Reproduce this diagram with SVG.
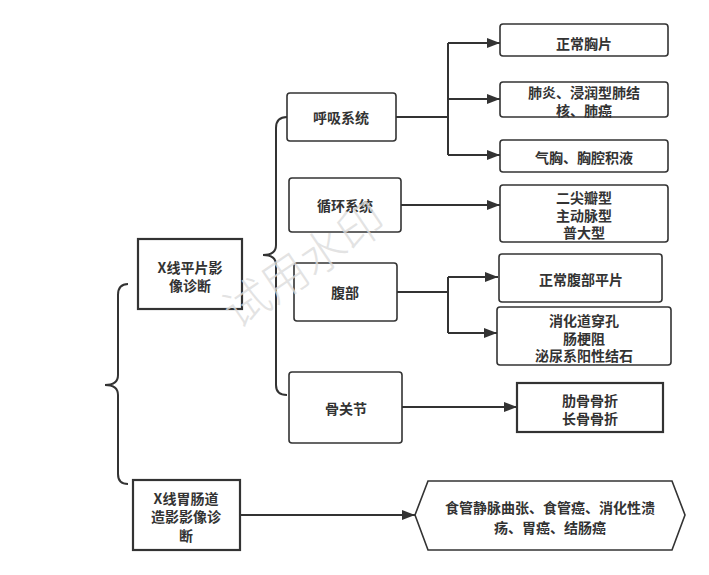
<svg xmlns="http://www.w3.org/2000/svg" width="709" height="575" viewBox="0 0 709 575">
<defs>
<marker id="arr" markerWidth="14" markerHeight="12" refX="13" refY="5" orient="auto" markerUnits="userSpaceOnUse">
<path d="M0,0 L13,5 L0,10 Z" fill="#333"/>
</marker>
<style>
.n{fill:#fff;stroke:#333;stroke-width:1.6}
.s{fill:#fff;stroke:#333;stroke-width:2.2}
.c{fill:none;stroke:#333;stroke-width:2}
.t{font-family:"Noto Sans CJK SC","Liberation Sans",sans-serif;font-size:14px;font-weight:bold;fill:#333;text-anchor:middle;dominant-baseline:central}
.w{font-family:"Noto Sans CJK SC","Liberation Sans",sans-serif;font-size:46px;font-weight:300;fill:#dcdcdc;fill-opacity:0.8;text-anchor:middle;dominant-baseline:central}
</style>
</defs>
<rect width="709" height="575" fill="#fff"/>
<g id="connectors">
<path class="c" d="M128,284 Q118,284 118,295 L118,375 Q118,385 105,385 Q118,385 118,395 L118,474 Q118,484 128,484"/>
<path class="c" d="M287,117 Q276,117 276,128 L276,245 Q276,255 263,255 Q276,255 276,265 L276,385 Q276,395 287,395"/>
<path class="c" d="M396,117 L448,117"/>
<path class="c" d="M448,43 L448,155"/>
<path class="c" d="M448,43 L500,43" marker-end="url(#arr)"/>
<path class="c" d="M448,99 L500,99" marker-end="url(#arr)"/>
<path class="c" d="M448,155 L500,155" marker-end="url(#arr)"/>
<path class="c" d="M401,205 L500,205" marker-end="url(#arr)"/>
<path class="c" d="M397,292 L448,292"/>
<path class="c" d="M448,277 L448,333"/>
<path class="c" d="M448,277 L498,277" marker-end="url(#arr)"/>
<path class="c" d="M448,333 L497,333" marker-end="url(#arr)"/>
<path class="c" d="M402,407 L517,407" marker-end="url(#arr)"/>
<path class="c" d="M240,515 L415,515" marker-end="url(#arr)"/>
</g>
<g id="xray">
<rect class="s" x="138" y="239" width="104" height="70"/>
<text class="t" x="190" y="267">X线平片影</text>
<text class="t" x="190" y="285">像诊断</text>
</g>
<g id="resp">
<rect class="n" x="287" y="93" width="109" height="48" rx="3"/>
<text class="t" x="341" y="117">呼吸系统</text>
</g>
<g id="circ">
<rect class="n" x="289" y="178" width="112" height="54" rx="3"/>
<text class="t" x="345" y="205">循环系统</text>
</g>
<g id="abd">
<rect class="n" x="294" y="263" width="103" height="58" rx="3"/>
<text class="t" x="345" y="292">腹部</text>
</g>
<g id="bone">
<rect class="n" x="289" y="372" width="113" height="71" rx="3"/>
<text class="t" x="346" y="408">骨关节</text>
</g>
<g id="gi">
<rect class="s" x="133" y="480" width="107" height="70"/>
<text class="t" x="186" y="498">X线胃肠道</text>
<text class="t" x="186" y="516">造影影像诊</text>
<text class="t" x="186" y="535">断</text>
</g>
<g id="chest">
<rect class="n" x="500" y="24" width="168" height="32" rx="3"/>
<text class="t" x="584" y="43">正常胸片</text>
</g>
<g id="pneu">
<rect class="n" x="500" y="82" width="168" height="35" rx="3"/>
<text class="t" x="584" y="92">肺炎、浸润型肺结</text>
<text class="t" x="584" y="110">核、肺癌</text>
</g>
<g id="pneumo">
<rect class="n" x="500" y="140" width="168" height="32" rx="3"/>
<text class="t" x="584" y="157">气胸、胸腔积液</text>
</g>
<g id="heart">
<rect class="n" x="500" y="185" width="168" height="57" rx="3"/>
<text class="t" x="584" y="197">二尖瓣型</text>
<text class="t" x="584" y="215">主动脉型</text>
<text class="t" x="584" y="232">普大型</text>
</g>
<g id="abdnormal">
<rect class="n" x="499" y="254" width="163" height="48" rx="3"/>
<text class="t" x="581" y="279">正常腹部平片</text>
</g>
<g id="abdpath">
<rect class="n" x="497" y="307" width="174" height="58" rx="3"/>
<text class="t" x="584" y="320">消化道穿孔</text>
<text class="t" x="584" y="338">肠梗阻</text>
<text class="t" x="584" y="355">泌尿系阳性结石</text>
</g>
<g id="fract">
<rect class="s" x="517" y="383" width="146" height="49"/>
<text class="t" x="590" y="400">肋骨骨折</text>
<text class="t" x="590" y="418">长骨骨折</text>
</g>
<g id="gidx">
<polygon class="n" points="428,481 672,481 685,515 672,550 428,550 415,515"/>
<text class="t" x="550" y="507">食管静脉曲张、食管癌、消化性溃</text>
<text class="t" x="550" y="527">疡、胃癌、结肠癌</text>
</g>
<text class="w" transform="translate(302,262) rotate(-34)">试用水印</text>
</svg>
